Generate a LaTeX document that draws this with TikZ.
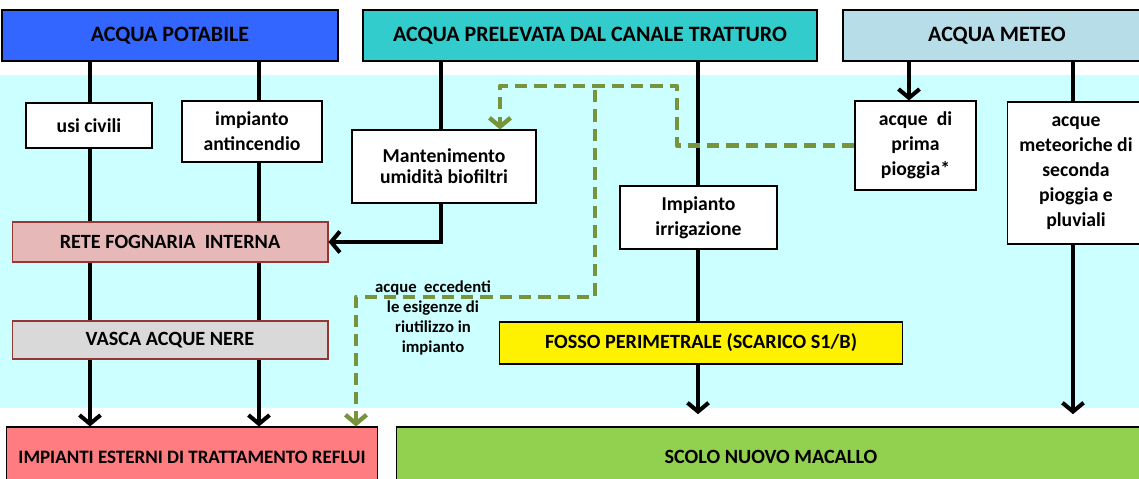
\documentclass[tikz,border=0pt]{standalone}
\usepackage{fontspec}
\setmainfont{Carlito}
\usetikzlibrary{arrows.meta,calc}
\usepackage{xcolor}

\definecolor{bgcyan}{HTML}{CCFFFF}
\definecolor{potblue}{HTML}{3366FF}
\definecolor{canteal}{HTML}{33CCCC}
\definecolor{metblue}{HTML}{B7DDE8}
\definecolor{retepink}{HTML}{E6B9B8}
\definecolor{vascagray}{HTML}{D9D9D9}
\definecolor{darkred}{HTML}{953735}
\definecolor{refred}{HTML}{FF7C80}
\definecolor{scologreen}{HTML}{92D050}
\definecolor{reusegreen}{HTML}{77933C}

\begin{document}
\begin{tikzpicture}[x=0.02cm, y=-0.02cm,
	box/.style={draw=black, line width=0.6pt, fill=white, align=center, inner sep=1pt,
		font=\bfseries\fontsize{11.2}{14.2}\selectfont},
	head/.style={box, line width=1.6pt, font=\bfseries\fontsize{12.5}{15}\selectfont},
	bar/.style={box, font=\bfseries\fontsize{11.5}{14}\selectfont},
	note/.style={align=center, inner sep=0pt, font=\bfseries\fontsize{9.5}{11.4}\selectfont},
	flow/.style={line width=2.3pt, black},
	drop/.style={flow, -{Straight Barb[length=5pt,width=12pt]}},
	reuse/.style={line width=2.5pt, reusegreen, dash pattern=on 7pt off 4pt, line join=round,
		-{Straight Barb[length=5pt,width=12pt]}}
]

	\useasboundingbox (0,0) rectangle (1139,479);
	\clip (0,0) rectangle (1139,479);

	% area of the plant
	\fill[bgcyan] (0,75) rectangle (1139,408);

	% x of the vertical lines
	\coordinate (xa) at (90,0);
	\coordinate (xb) at (259,0);
	\coordinate (xc) at (441,0);
	\coordinate (xd) at (698,0);
	\coordinate (xe) at (909,0);
	\coordinate (xf) at (1073,0);

	% sources
	\node[head, fill=potblue, minimum width=6.72cm, minimum height=1.02cm] (pot) at (170,35.5) {ACQUA POTABILE};
	\node[head, fill=canteal, minimum width=9.08cm, minimum height=1.02cm] (prel) at (590,35.5) {ACQUA PRELEVATA DAL CANALE TRATTURO};
	\node[head, fill=metblue, minimum width=6.16cm, minimum height=1.02cm] (met) at (997,35.5) {ACQUA METEO};

	% uses
	\node[box, minimum width=2.52cm, minimum height=0.9cm] (civ) at (89,125.5) {usi civili};
	\node[box, minimum width=2.8cm, minimum height=1.22cm] (anti) at (252,131.5) {impianto\\antincendio};
	\node[box, minimum width=3.68cm, minimum height=1.46cm, font=\bfseries\fontsize{11.2}{11.8}\selectfont] (bio) at (444,166.5) {Mantenimento\\umidità biofiltri};
	\node[box, minimum width=3.14cm, minimum height=1.26cm] (irr) at (698.5,217.5) {Impianto\\irrigazione};
	\node[box, minimum width=2.42cm, minimum height=1.78cm] (prima) at (915.5,145.5) {acque~ di\\prima\\pioggia*};
	\node[box, minimum width=2.76cm, minimum height=2.84cm] (sec) at (1076,173) {acque\\meteoriche di\\seconda\\pioggia e\\pluviali};

	% collectors
	\node[bar, fill=retepink, draw=darkred, minimum width=6.32cm, minimum height=0.8cm] (rete) at (170,242) {RETE FOGNARIA~ INTERNA};
	\node[bar, fill=vascagray, draw=darkred, minimum width=6.32cm, minimum height=0.76cm] (vasca) at (170,340) {VASCA ACQUE NERE};
	\node[bar, fill=yellow, minimum width=8.08cm, minimum height=0.84cm] (fosso) at (701,343) {FOSSO PERIMETRALE (SCARICO S1/B)};

	% receivers
	\node[bar, fill=refred, minimum width=7.44cm, minimum height=1.2cm, font=\bfseries\fontsize{10.8}{13}\selectfont] (imp) at (192,457) {IMPIANTI ESTERNI DI TRATTAMENTO REFLUI};
	\node[bar, fill=scologreen, minimum width=15cm, minimum height=1.2cm] (scolo) at (771,457) {SCOLO NUOVO MACALLO};

	% drinking water lines
	\foreach \c/\u in {xa/civ, xb/anti} {
		\draw[flow] (pot.south -| \c) -- (\u.north -| \c);
		\draw[flow] (\u.south -| \c) -- (rete.north -| \c);
		\draw[flow] (rete.south -| \c) -- (vasca.north -| \c);
		\draw[drop] (vasca.south -| \c) -- (imp.north -| \c);
	}

	% canal water lines
	\draw[flow] (prel.south -| xc) -- (bio.north -| xc);
	\draw[drop] (bio.south -| xc) |- (rete.east);
	\draw[flow] (prel.south -| xd) -- (irr.north -| xd);
	\draw[flow] (irr.south -| xd) -- (fosso.north -| xd);
	\draw[drop, shorten >=7pt] (fosso.south -| xd) -- (scolo.north -| xd);

	% rain water lines
	\draw[drop] (met.south -| xe) -- (prima.north -| xe);
	\draw[flow] (met.south -| xf) -- (sec.north -| xf);
	\draw[drop, shorten >=7pt] (sec.south -| xf) -- (scolo.north -| xf);

	% reuse of first rain water
	\coordinate (ra) at (677,86);
	\coordinate (rb) at (500,86);
	\coordinate (rc) at (595,90);
	\coordinate (rd) at (595,297);
	\coordinate (re) at (356,297);
	\draw[reuse] (prima.west) -| (ra) -- (rb) -- (bio.north -| rb);
	\draw[reuse] (rc) -- (rd) -- (re) -- (imp.north -| re);

	\node[note] (exc) at (433,318) {acque~ eccedenti\\le esigenze di\\riutilizzo in\\impianto};

\end{tikzpicture}
\end{document}
